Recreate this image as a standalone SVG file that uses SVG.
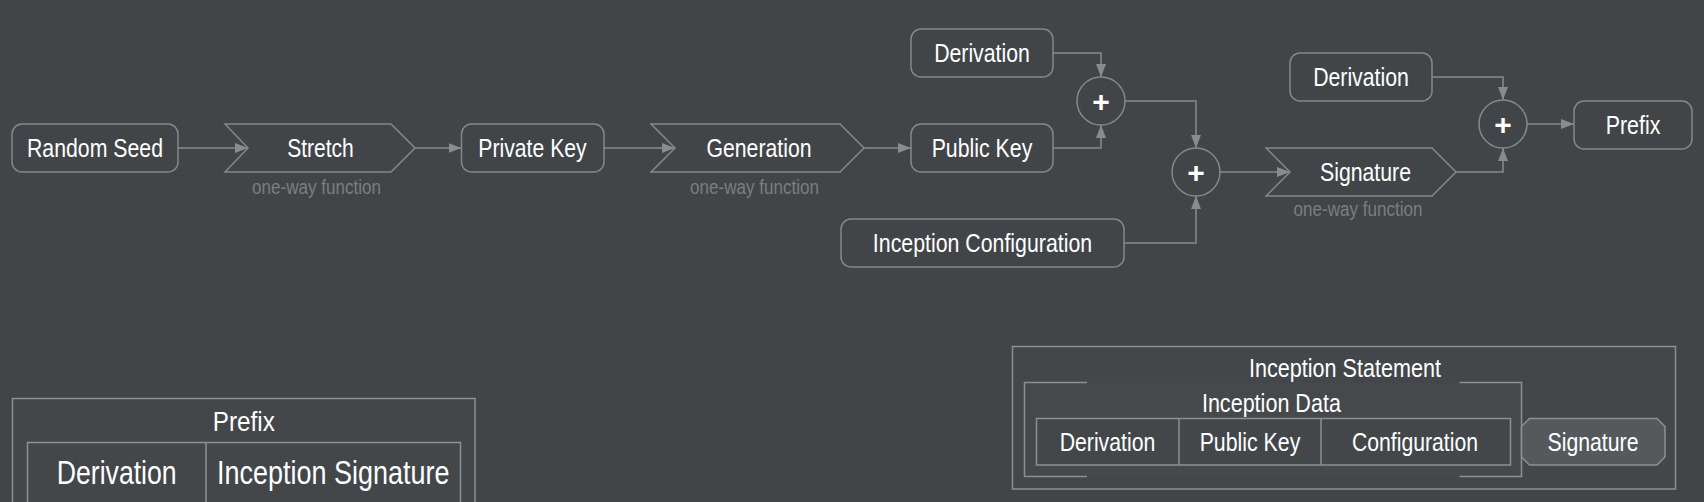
<svg xmlns="http://www.w3.org/2000/svg" width="1704" height="502" viewBox="0 0 1704 502">
<style>
.bg{fill:#414548}
.node{fill:#414548;stroke:#85888b;stroke-width:1.5}
.t{font-family:"Liberation Sans",Arial,sans-serif;font-size:25.5px;fill:#ffffff;text-anchor:middle}
.sub{font-family:"Liberation Sans",Arial,sans-serif;font-size:20.5px;fill:#7b7e81;text-anchor:middle}
.plus{font-family:"Liberation Sans",Arial,sans-serif;font-size:30px;font-weight:bold;fill:#ffffff;text-anchor:middle}
.conn path{fill:none;stroke:#898b8e;stroke-width:1.5;marker-end:url(#arr)}
.box{fill:#43474a;stroke:#8d9093;stroke-width:1.5}
.line{fill:none;stroke:#8d9093;stroke-width:1.5}
</style>
<defs>
<marker id="arr" markerUnits="userSpaceOnUse" markerWidth="13" markerHeight="10" refX="13" refY="5" orient="auto">
<path d="M0,0 L13,5 L0,10 Z" fill="#898b8e"/>
</marker>
</defs>
<rect class="bg" x="0" y="0" width="1704" height="502"/>

<g id="connectors" class="conn">
<path d="M178,148 H248"/>
<path d="M415,148 H461.5"/>
<path d="M604,148 H675"/>
<path d="M864,148 H911"/>
<path d="M1053,53 H1101 V77"/>
<path d="M1053,148 H1101 V125"/>
<path d="M1125,101 H1196 V148"/>
<path d="M1124,243 H1196 V196"/>
<path d="M1220,172 H1290"/>
<path d="M1432,77 H1503 V100"/>
<path d="M1456,172 H1503 V148"/>
<path d="M1527,124 H1574"/>
</g>

<g id="random-seed">
<rect class="node" x="12" y="124" width="166" height="48" rx="10"/>
<text class="t" x="95" y="157" textLength="136" lengthAdjust="spacingAndGlyphs">Random Seed</text>
</g>
<g id="stretch">
<path class="node" d="M225,124 L391,124 L415,148 L391,172 L225,172 L248,148 Z"/>
<text class="t" x="320.5" y="157" textLength="66.7" lengthAdjust="spacingAndGlyphs">Stretch</text>
<text class="sub" x="316.5" y="194" textLength="129" lengthAdjust="spacingAndGlyphs">one-way function</text>
</g>
<g id="private-key">
<rect class="node" x="461.5" y="124" width="142.5" height="48" rx="10"/>
<text class="t" x="532.5" y="157" textLength="108.4" lengthAdjust="spacingAndGlyphs">Private Key</text>
</g>
<g id="generation">
<path class="node" d="M651,124 L840,124 L864,148 L840,172 L651,172 L675,148 Z"/>
<text class="t" x="759" y="157" textLength="105" lengthAdjust="spacingAndGlyphs">Generation</text>
<text class="sub" x="754.5" y="194" textLength="129" lengthAdjust="spacingAndGlyphs">one-way function</text>
</g>
<g id="public-key">
<rect class="node" x="911" y="124" width="142" height="48" rx="10"/>
<text class="t" x="982" y="157" textLength="100.7" lengthAdjust="spacingAndGlyphs">Public Key</text>
</g>
<g id="derivation-1">
<rect class="node" x="911" y="29" width="142" height="48" rx="10"/>
<text class="t" x="982" y="62" textLength="95.7" lengthAdjust="spacingAndGlyphs">Derivation</text>
</g>
<g id="plus-1">
<circle class="node" cx="1101" cy="101" r="24"/>
<text class="plus" x="1101" y="111.5">+</text>
</g>
<g id="inception-configuration">
<rect class="node" x="841" y="219" width="283" height="48" rx="10"/>
<text class="t" x="982.5" y="252" textLength="219.3" lengthAdjust="spacingAndGlyphs">Inception Configuration</text>
</g>
<g id="plus-2">
<circle class="node" cx="1196" cy="172" r="24"/>
<text class="plus" x="1196" y="182.5">+</text>
</g>
<g id="signature">
<path class="node" d="M1266,148 L1432,148 L1456,172 L1432,196 L1266,196 L1290,172 Z"/>
<text class="t" x="1365.5" y="181" textLength="91" lengthAdjust="spacingAndGlyphs">Signature</text>
<text class="sub" x="1358" y="216" textLength="129" lengthAdjust="spacingAndGlyphs">one-way function</text>
</g>
<g id="derivation-2">
<rect class="node" x="1290" y="53" width="142" height="48" rx="10"/>
<text class="t" x="1361" y="86" textLength="95.7" lengthAdjust="spacingAndGlyphs">Derivation</text>
</g>
<g id="plus-3">
<circle class="node" cx="1503" cy="124" r="24"/>
<text class="plus" x="1503" y="134.5">+</text>
</g>
<g id="prefix">
<rect class="node" x="1574" y="101" width="118" height="48" rx="10"/>
<text class="t" x="1633" y="134" textLength="54.7" lengthAdjust="spacingAndGlyphs">Prefix</text>
</g>

<g id="prefix-structure">
<rect class="box" x="12.5" y="398.5" width="462.5" height="130"/>
<text class="t" x="243.8" y="431" style="font-size:27.5px" textLength="62" lengthAdjust="spacingAndGlyphs">Prefix</text>
<rect class="box" x="27.5" y="442.5" width="433" height="90"/>
<path class="line" d="M206,442.5 V510"/>
<text class="t" x="116.7" y="483.5" style="font-size:32.5px" textLength="120" lengthAdjust="spacingAndGlyphs">Derivation</text>
<text class="t" x="333.3" y="483.5" style="font-size:32.5px" textLength="232.6" lengthAdjust="spacingAndGlyphs">Inception Signature</text>
</g>

<g id="inception-statement">
<rect class="box" x="1012.5" y="346.5" width="663" height="142.5"/>
<text class="t" x="1345" y="376.5" style="font-size:26px" textLength="192" lengthAdjust="spacingAndGlyphs">Inception Statement</text>
<rect x="1024.5" y="382.5" width="497" height="94" fill="#46494c"/>
<path class="line" d="M1087,382.5 H1024.5 V476.5 H1087 M1459.5,382.5 H1521.5 V476.5 H1459.5"/>
<text class="t" x="1271.4" y="411.5" style="font-size:26px" textLength="139" lengthAdjust="spacingAndGlyphs">Inception Data</text>
<rect class="box" x="1036.5" y="418.5" width="474" height="46.5"/>
<path class="line" d="M1179,418.5 V465 M1321,418.5 V465"/>
<text class="t" x="1107.5" y="451" textLength="95.7" lengthAdjust="spacingAndGlyphs">Derivation</text>
<text class="t" x="1250" y="451" textLength="100.7" lengthAdjust="spacingAndGlyphs">Public Key</text>
<text class="t" x="1415" y="451" textLength="126" lengthAdjust="spacingAndGlyphs">Configuration</text>
<path d="M1529.5,418.5 H1657 L1665,426.5 V457 L1657,465 H1529.5 L1521.5,457 V426.5 Z" fill="#56595c" stroke="#8d9093" stroke-width="1.5"/>
<text class="t" x="1593" y="451" textLength="91" lengthAdjust="spacingAndGlyphs">Signature</text>
</g>
</svg>
